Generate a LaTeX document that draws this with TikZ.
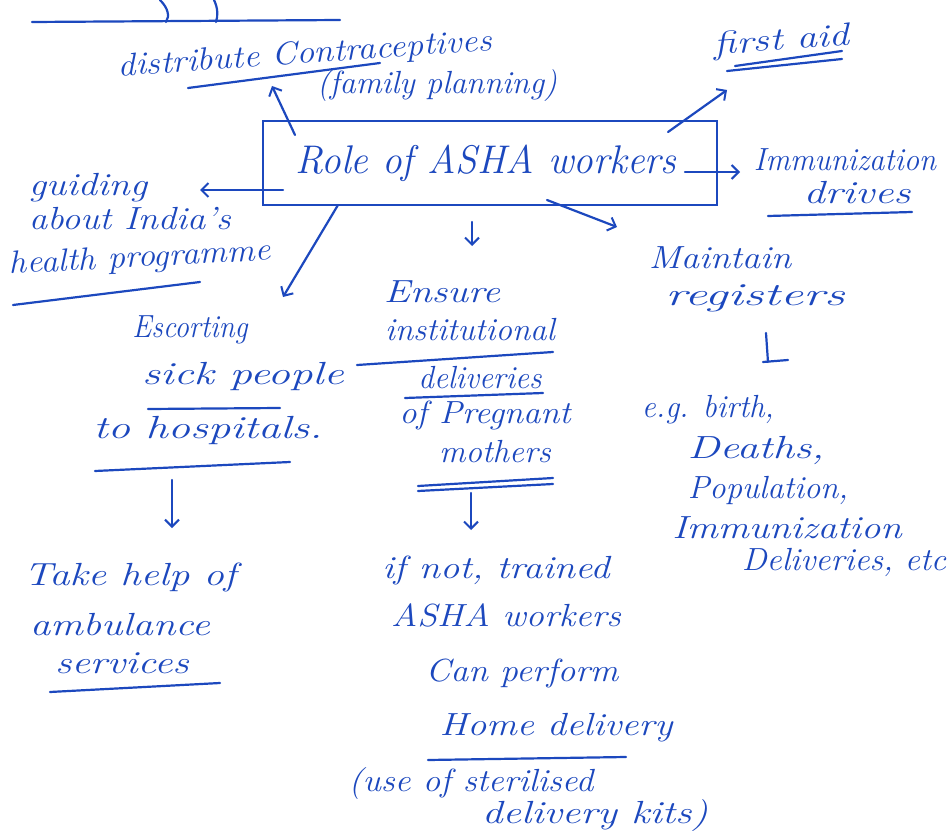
\documentclass[tikz,border=0pt]{standalone}
\usepackage{fontspec}
\usetikzlibrary{arrows.meta}
\definecolor{ink}{RGB}{28,72,190}
% widen a handwritten-looking word horizontally
\newcommand\hstretch[2]{\scalebox{#1}[1]{#2}}
\begin{document}
\begin{tikzpicture}[x=1pt,y=-1pt,
  inkline/.style={draw=ink, line width=2.2pt, line cap=round, line join=round},
  arrowline/.style={inkline, -{Straight Barb[length=7pt,width=14pt,line width=2pt]}},
  lbl/.style={text=ink, inner sep=0pt, font=\fontsize{32}{36}\selectfont\itshape},
  big/.style={lbl, font=\fontsize{40}{44}\selectfont\itshape}]
\useasboundingbox (0,0) rectangle (951,840);
\fill[white] (0,0) rectangle (951,840);

% ---- central box ----
\node[draw=ink, line width=2.2pt, minimum width=454pt, minimum height=84pt] (role) at (490,163) {};
\node[big] (roletext) at (486,163) {\hstretch{0.98}{Role of ASHA workers}};

% ---- leftover line at the top edge ----
\coordinate (top-a) at (32,22);
\coordinate (top-b) at (340,20);
\draw[inkline] (top-a) -- (top-b);
\draw[inkline] (160,0) .. controls (168,8) and (170,16) .. (166,22);
\draw[inkline] (214,0) .. controls (218,8) and (218,16) .. (216,22);

% ---- labels ----
\node[lbl, rotate=4] (contra) at (305,55) {\hstretch{1.11}{distribute Contraceptives}};
\node[lbl] (family) at (437,86) {\hstretch{1.01}{(family planning)}};
\node[lbl, rotate=4] (aid) at (782,42) {\hstretch{1.27}{first aid}};
\node[lbl] (immun) at (845,160) {\hstretch{0.96}{Immunization}};
\node[lbl] (drives) at (857,193) {\hstretch{1.33}{drives}};
\node[lbl] (guid1) at (88,188) {\hstretch{1.2}{guiding}};
\node[lbl] (guid2) at (130,219) {\hstretch{1.14}{about India's}};
\node[lbl, rotate=3] (guid3) at (140,259) {\hstretch{1.09}{health programme}};
\node[lbl] (esc1) at (190,330) {\hstretch{0.9}{Escorting}};
\node[lbl] (esc2) at (243,376) {\hstretch{1.4}{sick people}};
\node[lbl] (esc3) at (208,430) {\hstretch{1.39}{to hospitals.}};
\node[lbl] (amb1) at (130,577) {\hstretch{1.27}{Take help of}};
\node[lbl] (amb2) at (120,625) {\hstretch{1.27}{ambulance}};
\node[lbl] (amb3) at (122,663) {\hstretch{1.28}{services}};
\node[lbl] (ens1) at (442,292) {\hstretch{1.23}{Ensure}};
\node[lbl] (ens2) at (470,330) {\hstretch{1.03}{institutional}};
\node[lbl] (ens3) at (480,378) {\hstretch{0.97}{deliveries}};
\node[lbl] (ens4) at (485,415) {\hstretch{1.08}{of Pregnant}};
\node[lbl] (ens5) at (495,452) {\hstretch{1.03}{mothers}};
\node[lbl] (reg1) at (720,258) {\hstretch{1.14}{Maintain}};
\node[lbl] (reg2) at (755,298) {\hstretch{1.6}{registers}};
\node[lbl] (eg1) at (708,410) {\hstretch{0.97}{e.g. birth,}};
\node[lbl] (eg2) at (756,450) {\hstretch{1.35}{Deaths,}};
\node[lbl] (eg3) at (768,490) {\hstretch{1.02}{Population,}};
\node[lbl] (eg4) at (787,528) {\hstretch{1.21}{Immunization}};
\node[lbl] (eg5) at (844,562) {\hstretch{1.05}{Deliveries, etc}};
\node[lbl] (home1) at (496,570) {\hstretch{1.2}{if not, trained}};
\node[lbl] (home2) at (506,615) {\hstretch{1.13}{ASHA workers}};
\node[lbl] (home3) at (522,673) {\hstretch{1.11}{Can perform}};
\node[lbl] (home4) at (556,728) {\hstretch{1.19}{Home delivery}};
\node[lbl] (home5) at (471,784) {\hstretch{1.09}{(use of sterilised}};
\node[lbl] (home6) at (595,816) {\hstretch{1.28}{delivery kits)}};

% ---- underlines ----
\draw[inkline] (188,88) -- (380,63);
\draw[inkline] (727,71) -- (842,59);
\draw[inkline] (735,66) -- (842,51);
\draw[inkline] (768,216) -- (912,212);
\draw[inkline] (13,305) -- (200,282);
\draw[inkline] (148,409) -- (280,408);
\draw[inkline] (95,471) -- (290,462);
\draw[inkline] (50,692) -- (220,683);
\draw[inkline] (357,365) -- (553,352);
\draw[inkline] (405,398) -- (543,393);
\draw[inkline] (418,486) -- (553,478);
\draw[inkline] (418,491) -- (553,484);
\draw[inkline] (428,760) -- (626,757);

% ---- connector end points ----
\coordinate (s-contra) at (295,135);  \coordinate (t-contra) at (272,86);
\coordinate (s-aid) at (668,132);     \coordinate (t-aid) at (727,90);
\coordinate (s-immun) at (685,172);   \coordinate (t-immun) at (740,172);
\coordinate (s-guid) at (283,190);    \coordinate (t-guid) at (200,190);
\coordinate (s-esc) at (338,205);     \coordinate (t-esc) at (283,297);
\coordinate (s-ens) at (472,222);     \coordinate (t-ens) at (472,246);
\coordinate (s-reg) at (547,200);     \coordinate (t-reg) at (617,227);
\coordinate (s-amb) at (172,480);     \coordinate (t-amb) at (172,528);
\coordinate (s-home) at (471,493);    \coordinate (t-home) at (471,530);

% ---- connectors ----
\draw[arrowline] (s-contra) -- (t-contra);
\draw[arrowline] (s-aid) -- (t-aid);
\draw[arrowline] (s-immun) -- (t-immun);
\draw[arrowline] (s-guid) -- (t-guid);
\draw[arrowline] (s-esc) -- (t-esc);
\draw[arrowline] (s-ens) -- (t-ens);
\draw[arrowline] (s-reg) -- (t-reg);
\draw[arrowline] (s-amb) -- (t-amb);
\draw[arrowline] (s-home) -- (t-home);
% mark under "registers"
\coordinate (s-eg) at (766,333);
\coordinate (t-eg) at (768,362);
\draw[inkline] (s-eg) -- (t-eg) (763,362) -- (788,360);
\end{tikzpicture}
\end{document}
